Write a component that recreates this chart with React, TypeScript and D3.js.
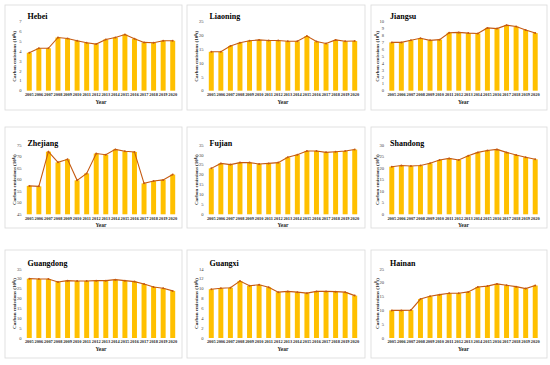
import React from "react";
import * as d3 from "d3";

const years = ["2005", "2006", "2007", "2008", "2009", "2010", "2011", "2012", "2013", "2014", "2015", "2016", "2017", "2018", "2019", "2020"];

const hebei = [3.85, 4.3, 4.3, 5.4, 5.3, 5.07, 4.86, 4.73, 5.2, 5.4, 5.7, 5.27, 4.9, 4.86, 5.07, 5.07];
const liaoning = [14.1, 14.1, 16.2, 17.4, 18.1, 18.4, 18.2, 18.2, 17.9, 17.9, 19.8, 17.8, 17.1, 18.4, 17.9, 18.0];
const jiangsu = [7.0, 7.0, 7.3, 7.6, 7.3, 7.4, 8.4, 8.45, 8.35, 8.3, 9.1, 9.0, 9.5, 9.3, 8.8, 8.35];
const zhejiang = [57.3, 57.1, 72.1, 67.5, 68.8, 59.7, 62.7, 71.3, 70.8, 73.1, 72.3, 72.0, 58.4, 59.4, 59.9, 62.2];
const fujian = [23.2, 25.7, 25.1, 26.1, 26.1, 25.4, 25.7, 26.1, 28.8, 30.1, 32.0, 32.0, 31.3, 31.6, 32.0, 32.7];
const shandong = [20.6, 21.1, 20.9, 21.1, 22.1, 23.5, 24.2, 23.5, 25.3, 26.8, 27.6, 28.1, 26.8, 25.7, 24.7, 23.8];
const guangdong = [30.1, 29.9, 29.9, 28.4, 29.1, 28.9, 28.9, 29.1, 29.1, 29.6, 29.1, 28.6, 27.4, 25.9, 25.2, 23.9];
const guangxi = [9.9, 10.1, 10.2, 11.55, 10.6, 10.8, 10.3, 9.3, 9.46, 9.3, 9.1, 9.46, 9.46, 9.4, 9.3, 8.6];
const hainan = [10.0, 10.0, 10.1, 14.1, 15.1, 15.7, 16.2, 16.2, 16.7, 18.5, 18.8, 19.6, 19.1, 18.6, 17.9, 19.0];

const hebeiTicks = [0, 1, 2, 3, 4, 5, 6, 7];
const liaoningTicks = [0, 5, 10, 15, 20, 25];
const jiangsuTicks = [0, 1, 2, 3, 4, 5, 6, 7, 8, 9, 10];
const zhejiangTicks = [45, 50, 55, 60, 65, 70, 75];
const fujianTicks = [0, 5, 10, 15, 20, 25, 30, 35];
const shandongTicks = [0, 5, 10, 15, 20, 25, 30];
const guangdongTicks = [0, 5, 10, 15, 20, 25, 30, 35];
const guangxiTicks = [0, 2, 4, 6, 8, 10, 12, 14];
const hainanTicks = [0, 5, 10, 15, 20, 25];

const provinces = [
  { name: "Hebei", values: hebei, ticks: hebeiTicks },
  { name: "Liaoning", values: liaoning, ticks: liaoningTicks },
  { name: "Jiangsu", values: jiangsu, ticks: jiangsuTicks },
  { name: "Zhejiang", values: zhejiang, ticks: zhejiangTicks },
  { name: "Fujian", values: fujian, ticks: fujianTicks },
  { name: "Shandong", values: shandong, ticks: shandongTicks },
  { name: "Guangdong", values: guangdong, ticks: guangdongTicks },
  { name: "Guangxi", values: guangxi, ticks: guangxiTicks },
  { name: "Hainan", values: hainan, ticks: hainanTicks },
];

// layout of the 3x3 grid
const colBox = [[5, 182], [187, 365], [371, 547]];
const rowBox = [[5, 110], [127, 228], [250, 358]];
const colPlot = [24.5, 206.5, 387];
const plotW = 153;
const rowPlot = [[21.7, 90.7], [145, 214.3], [269, 338]];
const rowTitle = [19, 146, 266];

const font = "'Liberation Serif', 'Times New Roman', serif";

const Panel = ({ p, i }) => {
  const c = i % 3, r = Math.floor(i / 3);
  const left = colPlot[c];
  const [top, bottom] = rowPlot[r];

  const x = d3.scaleBand().domain(years).range([left, left + plotW]).paddingInner(0.48).paddingOuter(0.24);
  const y = d3.scaleLinear().domain([p.ticks[0], p.ticks[p.ticks.length - 1]]).range([bottom, top]);
  const cx = (yr) => x(yr) + x.bandwidth() / 2;

  const line = d3.line<number>().x((d, k) => cx(years[k])).y(d => y(d));

  return (
    <g>
      <rect x={colBox[c][0]} y={rowBox[r][0]} width={colBox[c][1] - colBox[c][0]} height={rowBox[r][1] - rowBox[r][0]}
        fill="#fff" stroke="#d9d9d9" strokeWidth={0.8} />
      {p.ticks.map(t => (
        <text key={t} x={left - 3} y={y(t)} dy="0.35em" textAnchor="end" fontSize={4.6} fill="#404040" fontFamily={font}>{t}</text>
      ))}
      <text transform={`translate(${left - 10},${(top + bottom) / 2}) rotate(-90)`} textAnchor="middle" dy="0.35em"
        fontSize={5} fontWeight="bold" fill="#262626" fontFamily={font}>
        Carbon emissions (10<tspan dy="-1.5" fontSize={3.4}>8</tspan><tspan dy="1.5">t)</tspan>
      </text>
      {p.values.map((v, k) => (
        <rect key={k} x={x(years[k])} y={y(v)} width={x.bandwidth()} height={bottom - y(v)} fill="#ffc000" />
      ))}
      <path d={line(p.values)} fill="none" stroke="#c55a11" strokeWidth={1.1} />
      {p.values.map((v, k) => (
        <circle key={k} cx={cx(years[k])} cy={y(v)} r={1} fill="#c55a11" />
      ))}
      {years.map(yr => (
        <text key={yr} x={cx(yr)} y={bottom + 5.2} textAnchor="middle" fontSize={4.4} fontWeight="bold" fill="#262626" fontFamily={font}>{yr}</text>
      ))}
      <text x={left + plotW / 2} y={bottom + 13} textAnchor="middle" fontSize={5.5} fontWeight="bold" fill="#262626" fontFamily={font}>Year</text>
      <text x={left + 3} y={rowTitle[r]} fontSize={8} fontWeight="bold" fill="#000" fontFamily={font}>{p.name}</text>
    </g>
  );
};

export default function App() {
  return (
    <svg width={550} height={365} style={{ position: "absolute", left: 0, top: 0, background: "#fff" }}>
      <rect width={550} height={365} fill="#fff" />
      {provinces.map((p, i) => <Panel key={p.name} p={p} i={i} />)}
    </svg>
  );
}
